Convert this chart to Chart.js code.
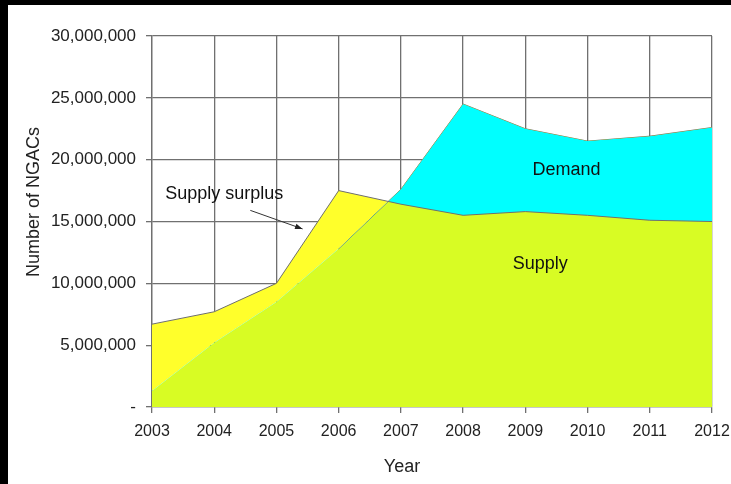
<!DOCTYPE html>
<html>
<head>
<meta charset="utf-8">
<script src="https://cdn.jsdelivr.net/npm/chart.js@4"></script>
<style>
  body { margin: 0; background: #000; }
  #panel { position: absolute; left: 8px; top: 5px; width: 723px; height: 479px; background: #fff; }
</style>
</head>
<body>
<div id="panel"><canvas id="chart" width="723" height="479"></canvas></div>
<script>
// values
const years = ['2003', '2004', '2005', '2006', '2007', '2008', '2009', '2010', '2011', '2012'];
const supply = [6700000, 7700000, 10000000, 17500000, 16400000, 15500000, 15800000, 15500000, 15100000, 15000000];
const demand = [1300000, 5200000, 8500000, 12800000, 17600000, 24500000, 22500000, 21500000, 21900000, 22600000];
const yTicks = [0, 5000000, 10000000, 15000000, 20000000, 25000000, 30000000];

const FONT = 'Liberation Sans, Arial, sans-serif';

// text labels in the plot, placed in data units
const notes = {
    surplus: { x: 1.16, y: 17200000, text: 'Supply surplus' },
    arrowFrom: { x: 1.58, y: 15900000 },
    arrowTo: { x: 2.42, y: 14400000 },
    demand: { x: 6.66, y: 19200000, text: 'Demand' },
    supply: { x: 6.24, y: 11600000, text: 'Supply' }
};

const notesPlugin = {
    id: 'notes',
    afterDatasetsDraw(chart) {
        const ctx = chart.ctx;
        const xs = chart.scales.x, ys = chart.scales.y;
        const px = p => [xs.getPixelForValue(p.x), ys.getPixelForValue(p.y)];
        ctx.save();
        ctx.fillStyle = '#111';
        ctx.font = '18px ' + FONT;
        ctx.textAlign = 'center';
        ctx.textBaseline = 'middle';
        [notes.surplus, notes.demand, notes.supply].forEach(n => {
            const [x, y] = px(n);
            ctx.fillText(n.text, x, y);
        });
        // arrow
        const [x1, y1] = px(notes.arrowFrom);
        const [x2, y2] = px(notes.arrowTo);
        ctx.strokeStyle = '#333';
        ctx.lineWidth = 1;
        ctx.beginPath();
        ctx.moveTo(x1, y1);
        ctx.lineTo(x2, y2);
        ctx.stroke();
        const a = Math.atan2(y2 - y1, x2 - x1);
        ctx.beginPath();
        ctx.moveTo(x2, y2);
        ctx.lineTo(x2 - 8 * Math.cos(a - 0.35), y2 - 8 * Math.sin(a - 0.35));
        ctx.lineTo(x2 - 8 * Math.cos(a + 0.35), y2 - 8 * Math.sin(a + 0.35));
        ctx.closePath();
        ctx.fillStyle = '#222';
        ctx.fill();

        // axis titles (off-centre in the original)
        ctx.fillStyle = '#222';
        ctx.fillText('Year', 394, 462);
        ctx.translate(26, 197);
        ctx.rotate(-Math.PI / 2);
        ctx.fillText('Number of NGACs', 0, 0);
        ctx.restore();
    }
};

new Chart(document.getElementById('chart').getContext('2d'), {
    type: 'line',
    data: {
        labels: years,
        datasets: [{
            label: 'Supply',
            data: supply,
            order: 0,
            borderColor: '#6f6f6f',
            borderWidth: 1,
            pointRadius: 0,
            tension: 0,
            fill: { target: 1, above: '#ffff2b', below: '#00ffff' }
        }, {
            label: 'Demand',
            data: demand,
            order: 2,
            borderWidth: 0,
            borderColor: 'rgba(0,0,0,0)',
            pointRadius: 0,
            tension: 0,
            backgroundColor: '#d8fc24',
            fill: 'origin'
        }, {
            label: 'Demand outline',
            data: demand,
            order: 1,
            borderWidth: 1,
            pointRadius: 0,
            tension: 0,
            fill: false,
            segment: {
                borderColor: c => (demand[c.p1DataIndex] < supply[c.p1DataIndex] ? 'rgba(0,0,0,0)' : '#6f6f6f')
            }
        }]
    },
    options: {
        responsive: false,
        animation: false,
        layout: { padding: { top: 31, right: 19, left: 0, bottom: 0 } },
        plugins: {
            legend: { display: false },
            tooltip: { enabled: false }
        },
        scales: {
            x: {
                offset: false,
                grid: { color: '#707070', lineWidth: 1.3, tickLength: 6 },
                border: { color: '#8a8a9a', width: 1.3 },
                ticks: { color: '#222', padding: 9, font: { family: FONT, size: 16 }, maxRotation: 0 },
                afterFit: s => { s.height = 77; s.paddingLeft = 0; s.paddingRight = 0; }
            },
            y: {
                min: 0,
                max: 30000000,
                afterBuildTicks: s => { s.ticks = yTicks.map(v => ({ value: v })); },
                grid: { color: '#707070', lineWidth: 1.3, tickLength: 6 },
                border: { color: '#707070', width: 1.3 },
                ticks: {
                    color: '#222',
                    padding: 10,
                    font: { family: FONT, size: 17 },
                    callback: v => (v === 0 ? '-' : v.toLocaleString('en-US'))
                },
                afterFit: s => { s.width = 144; }
            }
        }
    },
    plugins: [notesPlugin]
});
</script>
</body>
</html>
